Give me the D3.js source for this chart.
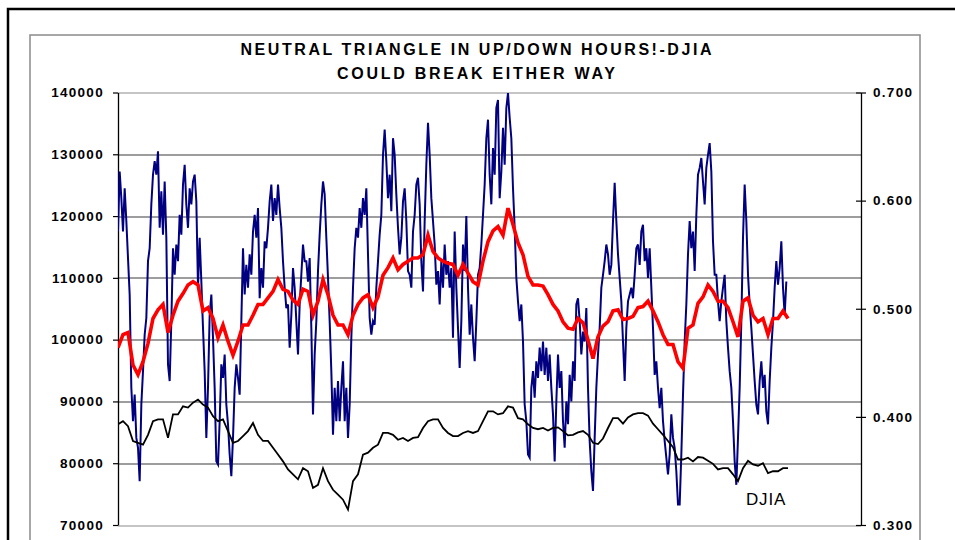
<!DOCTYPE html>
<html>
<head>
<meta charset="utf-8">
<script src="https://cdn.jsdelivr.net/npm/d3@7"></script>
<style>
  body { margin: 0; background: #fff; }
  svg { display: block; font-family: "Liberation Sans", Arial, sans-serif; }
</style>
</head>
<body>
<div id="chart"></div>
<script>
// ---- data ----
var titleLines = ["NEUTRAL TRIANGLE IN UP/DOWN HOURS!-DJIA", "COULD BREAK EITHER WAY"];
var leftTicks = [70000, 80000, 90000, 100000, 110000, 120000, 130000, 140000];
var rightTicks = [0.3, 0.4, 0.5, 0.6, 0.7];
var seriesLabel = "DJIA";

// up/down hours (thousands), one value per step
var upDownHours = [
  117.5,127.2,122.9,117.5,124.5,119.2,113.2,107.3,92.2,86.8,
  91.1,84.1,82.5,77.1,89.5,94.9,100.8,103.5,112.7,114.8,
  121.9,126.7,128.9,126.7,130.5,118.1,124.0,117.0,125.6,116.5,
  96.0,93.3,103.0,114.8,110.5,115.4,112.7,120.2,117.0,125.1,
  128.3,121.9,118.1,124.5,121.9,125.6,126.7,122.4,108.4,116.5,
  109.4,101.9,94.9,84.1,92.2,104.0,107.3,100.3,92.2,80.3,
  79.8,86.8,96.0,93.8,97.6,89.5,86.3,81.4,77.9,84.1,
  92.2,96.0,93.8,91.1,103.0,114.8,107.3,112.1,108.4,113.8,
  110.5,117.5,120.2,116.5,121.3,106.7,111.6,108.4,115.9,114.8,
  118.1,122.4,125.1,119.2,122.9,120.2,125.1,121.3,118.1,112.7,
  108.4,105.1,105.7,98.7,104.0,111.6,108.4,103.0,97.6,105.7,
  110.5,115.4,112.7,112.7,109.4,113.2,101.9,87.9,97.6,103.0,
  111.1,117.0,121.9,125.6,123.5,116.5,110.0,103.0,94.9,84.6,
  92.2,86.8,93.3,86.8,92.2,96.5,86.8,92.2,84.1,89.5,
  100.3,108.4,114.8,118.1,116.5,121.3,118.1,122.9,120.2,124.5,
  113.8,103.5,100.8,103.0,102.4,108.4,112.7,117.0,120.2,129.9,
  134.0,128.9,122.9,126.7,120.8,132.6,129.9,123.5,118.1,113.8,
  116.5,122.4,124.5,119.2,111.1,110.5,108.4,117.5,120.2,125.1,
  126.2,121.9,112.7,107.8,119.2,128.3,135.1,129.9,122.9,119.2,
  115.4,108.9,111.1,105.7,112.7,108.4,115.4,110.5,112.7,108.4,
  111.6,100.3,117.5,108.4,101.9,95.4,103.0,115.4,111.1,120.0,
  108.4,100.8,105.7,100.3,96.5,103.0,110.5,111.6,115.4,120.2,
  125.1,132.6,135.6,126.7,121.9,131.0,126.7,137.5,138.8,122.9,
  127.2,134.3,128.3,137.5,139.9,135.9,132.6,124.5,118.1,110.0,
  106.2,103.0,105.7,99.7,89.5,86.8,81.4,80.9,92.2,94.9,
  90.6,96.5,93.8,98.7,94.9,99.7,94.3,98.7,93.3,97.6,
  92.2,87.9,80.3,90.0,97.6,92.2,94.9,86.8,82.5,90.0,
  86.3,94.3,90.0,96.5,93.3,105.7,106.7,103.0,97.6,101.3,
  99.7,105.1,92.2,83.6,78.7,75.5,84.1,92.2,97.6,101.9,
  108.4,110.5,112.7,115.4,113.8,110.5,112.1,119.2,125.4,119.2,
  113.8,110.0,106.2,99.7,93.3,101.9,106.2,107.3,108.4,106.7,
  110.5,114.8,115.4,112.1,117.5,118.6,112.7,114.8,110.0,114.8,
  108.4,101.9,94.3,96.5,92.2,88.9,92.2,86.8,83.6,80.9,
  78.2,81.4,87.9,84.1,82.5,78.7,73.3,73.3,81.4,91.1,
  99.7,105.7,113.8,119.2,114.8,117.5,111.1,120.2,126.7,127.8,
  129.4,125.6,121.9,127.8,129.9,131.8,127.2,115.9,110.5,110.5,
  106.2,103.0,106.2,108.4,110.5,103.0,98.7,94.9,92.2,86.8,
  80.3,76.5,84.1,92.2,103.0,116.5,125.1,119.2,110.5,105.7,
  101.9,97.6,93.3,89.5,87.9,93.3,96.5,92.2,94.3,88.4,
  86.3,93.3,98.7,103.0,108.4,112.7,108.9,111.6,115.9,108.4,
  104.0,109.4
];

// up-hours ratio (right axis), one value every 3 steps
var upRatio = [
  0.464,0.476,0.478,0.448,0.439,0.451,0.468,0.491,0.499,0.504,
  0.478,0.494,0.507,0.514,0.522,0.525,0.522,0.498,0.501,0.491,
  0.473,0.485,0.470,0.457,0.470,0.485,0.485,0.494,0.504,0.504,
  0.510,0.516,0.527,0.518,0.516,0.508,0.504,0.518,0.516,0.494,
  0.507,0.527,0.513,0.494,0.485,0.485,0.476,0.494,0.504,0.510,
  0.513,0.501,0.511,0.531,0.538,0.547,0.536,0.541,0.544,0.547,
  0.547,0.550,0.568,0.553,0.547,0.544,0.542,0.541,0.531,0.541,
  0.533,0.525,0.522,0.544,0.562,0.572,0.576,0.568,0.593,0.578,
  0.561,0.550,0.530,0.522,0.522,0.521,0.513,0.504,0.498,0.488,
  0.482,0.481,0.491,0.487,0.471,0.454,0.474,0.484,0.488,0.498,
  0.499,0.490,0.491,0.493,0.501,0.502,0.507,0.498,0.488,0.476,
  0.467,0.467,0.451,0.445,0.482,0.485,0.505,0.511,0.522,0.516,
  0.507,0.507,0.501,0.488,0.474,0.507,0.510,0.494,0.488,0.491,
  0.476,0.491,0.491,0.498,0.491
];

// DJIA, drawn against the left scale (thousands), one value every 3 steps
var djia = [
  86.3,86.8,86.0,83.6,83.3,83.0,84.6,86.8,87.1,87.1,
  84.1,87.9,87.9,89.2,89.0,89.8,90.3,89.5,89.0,87.6,
  86.8,87.1,85.2,83.3,83.6,84.4,85.2,86.5,84.6,83.6,
  83.6,82.5,81.4,80.3,79.0,78.2,77.4,79.2,78.7,76.0,
  76.5,79.2,77.1,75.7,74.9,74.1,72.5,77.1,78.2,81.4,
  81.7,82.5,83.0,84.9,84.9,84.6,83.8,84.1,83.6,84.1,
  84.2,85.7,86.8,87.1,87.1,85.7,84.9,84.4,84.4,84.9,
  85.2,84.9,85.2,86.8,88.4,88.4,87.9,88.1,89.2,89.0,
  87.3,87.1,86.3,85.7,85.5,85.7,85.3,85.7,85.8,85.2,
  84.5,84.6,85.0,85.2,84.6,83.3,83.1,84.0,85.7,87.3,
  87.3,86.4,87.4,87.9,88.1,88.1,87.7,86.4,85.5,84.6,
  83.6,82.6,80.6,80.6,80.9,80.3,81.0,80.9,80.4,79.9,
  79.0,79.2,79.2,78.2,77.1,79.2,80.4,79.8,79.6,80.0,
  78.4,78.7,78.7,79.2,79.2
];
var slowStep = 3;
var totalSteps = 445.8;

// ---- layout ----
var svgWidth = 955;
var svgHeight = 540;

var margin = { top: 92.5, right: 94, bottom: 15, left: 118 };
var chartWidth = svgWidth - margin.left - margin.right;
var chartHeight = svgHeight - margin.top - margin.bottom;

var svg = d3.select("#chart")
  .append("svg")
  .attr("width", svgWidth)
  .attr("height", svgHeight);

// outer black frame and grey chart-area box
svg.append("rect")
  .attr("x", 8).attr("y", 9)
  .attr("width", 1000).attr("height", 600)
  .attr("fill", "none").attr("stroke", "#000").attr("stroke-width", 2.5);

svg.append("rect")
  .attr("x", 30).attr("y", 35)
  .attr("width", 890).attr("height", 600)
  .attr("fill", "none").attr("stroke", "#8a8a8a").attr("stroke-width", 1.5);

// title
svg.selectAll(".title")
  .data(titleLines)
  .enter()
  .append("text")
  .attr("class", "title")
  .attr("x", 476)
  .attr("y", (d, i) => 54.5 + i * 24.5)
  .attr("text-anchor", "middle")
  .attr("textLength", (d, i) => i === 0 ? 471 : 278)
  .attr("lengthAdjust", "spacing")
  .attr("font-size", "16px")
  .attr("font-weight", "bold")
  .text(d => d);

var chartGroup = svg.append("g")
  .attr("transform", `translate(${margin.left}, ${margin.top})`);

var xScale = d3.scaleLinear()
  .domain([0, totalSteps])
  .range([0, chartWidth]);

var yLeft = d3.scaleLinear()
  .domain([70000, 140000])
  .range([chartHeight, 0]);

var yRight = d3.scaleLinear()
  .domain([0.3, 0.7])
  .range([chartHeight, 0]);

// gridlines
chartGroup.selectAll(".grid")
  .data(leftTicks)
  .enter()
  .append("line")
  .attr("x1", 0)
  .attr("x2", chartWidth)
  .attr("y1", d => Math.round(yLeft(d)) + 0.5)
  .attr("y2", d => Math.round(yLeft(d)) + 0.5)
  .attr("stroke", (d, i) => (i === 0 || i === leftTicks.length - 1) ? "#8c8c8c" : "#3c3c3c")
  .attr("stroke-width", 1.2);

// axes
var leftAxis = d3.axisLeft(yLeft)
  .tickValues(leftTicks)
  .tickFormat(d3.format("d"))
  .tickSizeInner(5)
  .tickSizeOuter(0)
  .tickPadding(9);

var rightAxis = d3.axisRight(yRight)
  .tickValues(rightTicks)
  .tickFormat(d3.format(".3f"))
  .tickSizeInner(5)
  .tickSizeOuter(0)
  .tickPadding(7);

var leftG = chartGroup.append("g").call(leftAxis);
var rightG = chartGroup.append("g")
  .attr("transform", `translate(${chartWidth}, 0)`)
  .call(rightAxis);

rightG.selectAll(".tick line").attr("x1", -5);

[leftG, rightG].forEach(function(g) {
  g.selectAll("path").attr("stroke", "#000").attr("stroke-width", 1.3);
  g.selectAll(".tick line").attr("stroke", "#000").attr("stroke-width", 1.2);
  g.selectAll("text")
    .attr("font-family", "Liberation Sans, Arial, sans-serif")
    .attr("font-size", "13.5px")
    .attr("font-weight", "bold")
    .attr("letter-spacing", "1.3px")
    .attr("fill", "#000");
});

// series
chartGroup.append("clipPath").attr("id", "plotClip")
  .append("rect").attr("x", 0).attr("y", -1).attr("width", chartWidth).attr("height", chartHeight + 2);

var plot = chartGroup.append("g").attr("clip-path", "url(#plotClip)");

var blueLine = d3.line()
  .x((d, i) => xScale(i))
  .y(d => yLeft(d * 1000));

var redLine = d3.line()
  .x((d, i) => xScale(i * slowStep))
  .y(d => yRight(d));

var djiaLine = d3.line()
  .x((d, i) => xScale(i * slowStep))
  .y(d => yLeft(d * 1000));

plot.append("path")
  .datum(upDownHours)
  .attr("d", blueLine)
  .attr("fill", "none")
  .attr("stroke", "#000080")
  .attr("stroke-width", 2);

plot.append("path")
  .datum(upRatio)
  .attr("d", redLine)
  .attr("fill", "none")
  .attr("stroke", "#ff0000")
  .attr("stroke-width", 3.6);

plot.append("path")
  .datum(djia)
  .attr("d", djiaLine)
  .attr("fill", "none")
  .attr("stroke", "#000")
  .attr("stroke-width", 1.8);

chartGroup.append("text")
  .attr("x", 628)
  .attr("y", 412)
  .attr("font-size", "17px")
  .attr("letter-spacing", "0.8px")
  .text(seriesLabel);
</script>
</body>
</html>
